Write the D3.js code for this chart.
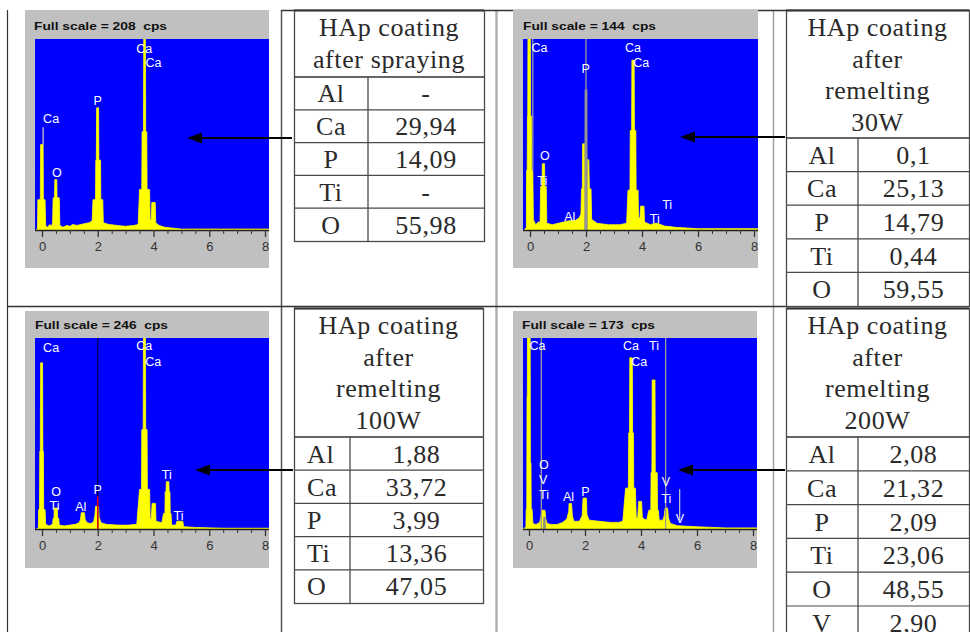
<!DOCTYPE html>
<html><head><meta charset="utf-8">
<script src="https://cdn.jsdelivr.net/npm/d3@7"></script>
<style>body{margin:0;background:#fff}svg{display:block}</style>
</head><body>
<svg id="c" width="970" height="632"></svg>
<script>
// ---------------- DATA ----------------
const fullScales = [208, 144, 246, 173];
const energyTicks = [0, 2, 4, 6, 8];
const minorTicks = [0.5,1,1.5,2.5,3,3.5,4.5,5,5.5,6.5,7,7.5];

// spectra: [energy keV, counts cps]
const spectrumSprayed = [[-0.2,0],[-0.16,2],[-0.15,33],[-0.06,33],[-0.05,93],[0.04,93],[0.05,33],[0.11,33],[0.13,5],[0.2,3],[0.28,6],[0.34,4],[0.38,8],[0.4,35],[0.45,35],[0.46,55],[0.53,55],[0.54,35],[0.62,35],[0.64,5],[0.75,3],[0.9,5],[1.0,4],[1.1,6],[1.25,5],[1.4,6],[1.55,7],[1.7,8],[1.8,10],[1.83,33],[1.92,33],[1.93,76],[1.95,76],[1.96,133],[2.03,133],[2.04,76],[2.1,76],[2.11,33],[2.18,33],[2.2,8],[2.4,6],[2.7,5],[3.0,4],[3.3,5],[3.45,6],[3.5,44],[3.58,44],[3.59,107],[3.64,107],[3.65,208],[3.71,208],[3.72,107],[3.76,107],[3.77,44],[3.86,44],[3.88,10],[3.92,12],[3.94,30],[4.06,30],[4.08,8],[4.2,5],[4.4,3],[4.7,2],[5.0,1],[6,1],[8.3,1]];
const spectrum30W = [[-0.2,0],[-0.13,2],[-0.12,45],[-0.1,45],[-0.09,86],[-0.08,86],[-0.07,170],[0.01,170],[0.02,86],[0.05,86],[0.06,45],[0.1,45],[0.12,8],[0.2,4],[0.3,6],[0.36,6],[0.38,33],[0.43,33],[0.44,50],[0.52,50],[0.53,33],[0.58,33],[0.6,5],[0.8,4],[1.0,5],[1.2,6],[1.4,7],[1.6,7],[1.75,9],[1.82,12],[1.84,31],[1.87,31],[1.88,65],[1.96,65],[1.97,30],[2.04,30],[2.05,53],[2.1,53],[2.12,31],[2.18,31],[2.2,8],[2.4,5],[2.8,4],[3.2,4],[3.45,5],[3.5,30],[3.57,30],[3.58,75],[3.63,75],[3.64,128],[3.72,128],[3.73,75],[3.78,75],[3.79,30],[3.86,30],[3.88,8],[3.93,10],[3.95,18],[4.07,18],[4.09,6],[4.3,4],[4.45,5],[4.55,5],[4.8,3],[5.2,2],[6,1],[8.3,1]];
const spectrum100W = [[-0.2,0],[-0.13,2],[-0.12,25],[-0.09,25],[-0.08,100],[-0.06,100],[-0.05,214],[0.02,214],[0.03,100],[0.05,100],[0.06,25],[0.11,25],[0.13,6],[0.25,4],[0.38,6],[0.4,14],[0.43,14],[0.44,27],[0.55,27],[0.56,14],[0.6,14],[0.62,5],[0.8,4],[1.0,5],[1.2,6],[1.33,8],[1.38,12],[1.41,21],[1.52,21],[1.55,12],[1.62,8],[1.75,7],[1.85,9],[1.9,18],[1.92,29],[2.03,29],[2.05,15],[2.12,8],[2.3,6],[2.7,5],[3.1,5],[3.4,6],[3.5,51],[3.57,51],[3.58,128],[3.63,128],[3.64,246],[3.71,246],[3.72,128],[3.77,128],[3.78,51],[3.86,51],[3.88,12],[3.92,14],[3.95,33],[4.07,33],[4.09,10],[4.3,8],[4.36,20],[4.41,20],[4.42,48],[4.45,48],[4.46,61],[4.55,61],[4.56,48],[4.59,48],[4.6,20],[4.63,20],[4.65,5],[4.8,5],[4.84,10],[5.05,10],[5.08,3],[5.5,2],[6.5,1],[8.3,1]];
const spectrum200W = [[-0.2,0],[-0.11,2],[-0.1,18],[-0.08,18],[-0.07,120],[-0.06,120],[-0.05,200],[0.04,200],[0.05,60],[0.07,60],[0.08,18],[0.11,18],[0.14,5],[0.25,4],[0.38,6],[0.42,10],[0.46,17],[0.57,17],[0.6,9],[0.65,5],[0.8,4],[1.0,4],[1.2,6],[1.35,9],[1.42,16],[1.43,23],[1.52,23],[1.55,12],[1.6,7],[1.8,7],[1.9,12],[1.93,28],[2.05,28],[2.07,13],[2.15,8],[2.5,7],[2.9,6],[3.2,6],[3.35,7],[3.45,37],[3.55,37],[3.56,87],[3.59,87],[3.6,155],[3.69,155],[3.7,87],[3.73,87],[3.74,37],[3.8,37],[3.83,10],[3.88,10],[3.92,25],[4.02,25],[4.05,10],[4.2,8],[4.28,17],[4.35,17],[4.36,51],[4.39,51],[4.4,135],[4.5,135],[4.51,51],[4.58,51],[4.59,17],[4.62,17],[4.65,8],[4.78,8],[4.83,12],[4.86,19],[4.95,19],[4.98,10],[5.05,5],[5.3,3],[6,2],[7,1],[8.3,1]];
// gray overlay peaks
const overlay30W = [[1.94,0],[1.95,106],[2.05,106],[2.06,0]];
const overlay200W = [[0.5,0],[0.51,11],[0.59,11],[0.6,0]];

// peak labels: [text, keV (left edge), cps (baseline)]
const labelsSprayed = [["Ca",0.04,116],["O",0.36,58],["P",1.85,136],["Ca",3.38,193],["Ca",3.71,178]];
const labels30W = [["Ca",0.05,134],["P",1.84,118],["Ca",3.39,134],["Ca",3.69,123],["O",0.36,53],["Ti",0.26,34],["Al",1.22,7],["Ti",4.28,5],["Ti",4.72,16]];
const labels100W = [["Ca",0.04,228],["Ca",3.38,230],["Ca",3.7,210],["O",0.33,43],["Ti",0.27,24],["Al",1.19,23],["P",1.85,45],["Ti",4.3,64],["Ti",4.72,12]];
const labels200W = [["Ca",0.02,162],["Ca",3.36,162],["Ti",4.29,162],["Ca",3.65,148],["O",0.36,54],["V",0.36,41],["Ti",0.36,27],["Al",1.21,25],["P",1.87,30],["V",4.74,39],["Ti",4.73,24],["V",5.24,5]];

// marker lines: [keV, cps from, cps to, colour]
const markersSprayed = [[0.04,93,112,"#c8c8c8"]];
const markers30W = [[0.1,45,144,"#9a9a9a"],[2.0,0,144,"#9a9a9a"]];
const markers100W = [[2.0,0,246,"#000050"],[2.0,0,42,"#ff0000"]];
const markers200W = [[0.44,0,173,"#9a9a9a"],[4.88,0,173,"#9a9a9a"],[5.38,8,36,"#bbbbbb"]];

// tables
const elements = ["Al","Ca","P","Ti","O"];
const elements200W = ["Al","Ca","P","Ti","O","V"];
const valuesSprayed = ["-","29,94","14,09","-","55,98"];
const values30W = ["0,1","25,13","14,79","0,44","59,55"];
const values100W = ["1,88","33,72","3,99","13,36","47,05"];
const values200W = ["2,08","21,32","2,09","23,06","48,55","2,90"];
const headerSprayed = ["HAp coating","after spraying"];
const header30W = ["HAp coating","after","remelting","30W"];
const header100W = ["HAp coating","after","remelting","100W"];
const header200W = ["HAp coating","after","remelting","200W"];

// ---------------- DRAW ----------------
const svg = d3.select("#c");
const sans = "Arial, 'Liberation Sans', sans-serif";
const serif = "'Liberation Serif', 'Times New Roman', serif";

// frame lines
const frame = svg.append("g").attr("fill","none");
frame.append("line").attr("x1",7.5).attr("x2",7.5).attr("y1",10).attr("y2",632).attr("stroke","#333").attr("stroke-width",1.2);
frame.append("line").attr("x1",281.5).attr("x2",281.5).attr("y1",10).attr("y2",632).attr("stroke","#555").attr("stroke-width",1.5);
frame.append("line").attr("x1",496.5).attr("x2",496.5).attr("y1",10).attr("y2",632).attr("stroke","#b0b0b0").attr("stroke-width",2.5);
frame.append("line").attr("x1",773.5).attr("x2",773.5).attr("y1",10).attr("y2",632).attr("stroke","#a0a0a0").attr("stroke-width",1.5);
frame.append("line").attr("x1",7).attr("x2",970).attr("y1",306.5).attr("y2",306.5).attr("stroke","#333").attr("stroke-width",1.5);
frame.append("line").attr("x1",281).attr("x2",970).attr("y1",10.5).attr("y2",10.5).attr("stroke","#333").attr("stroke-width",1.5);

const panelDefs = [
  {gx:25, gy:10, gw:244, gh:258, bx:35, by:39, bw:234, bh:191, x0:42, x8:265, tx:34, ty:30, fs:fullScales[0], spec:spectrumSprayed, labels:labelsSprayed, overlay:null, markers:markersSprayed},
  {gx:513, gy:10, gw:245, gh:258, bx:523, by:39, bw:235, bh:191, x0:530, x8:754, tx:523, ty:30, fs:fullScales[1], spec:spectrum30W, labels:labels30W, overlay:overlay30W, markers:markers30W},
  {gx:25, gy:311, gw:244, gh:257, bx:35, by:338, bw:234, bh:191, x0:42, x8:265, tx:35, ty:329, fs:fullScales[2], spec:spectrum100W, labels:labels100W, overlay:null, markers:markers100W},
  {gx:513, gy:311, gw:244, gh:257, bx:523, by:338, bw:234, bh:191, x0:529, x8:753, tx:522, ty:329, fs:fullScales[3], spec:spectrum200W, labels:labels200W, overlay:overlay200W, markers:markers200W}
];

panelDefs.forEach((p, i) => {
  const g = svg.append("g");
  g.append("rect").attr("x",p.gx).attr("y",p.gy).attr("width",p.gw).attr("height",p.gh).attr("fill","#c0c0c0");
  g.append("text").attr("x",p.tx).attr("y",p.ty).attr("font-family",sans).attr("font-weight","bold")
    .attr("font-size",11.5).attr("fill","#111").attr("textLength",133).attr("lengthAdjust","spacingAndGlyphs")
    .style("white-space","pre").text("Full scale = " + p.fs + "  cps");
  g.append("rect").attr("x",p.bx).attr("y",p.by).attr("width",p.bw).attr("height",p.bh).attr("fill","#0000ff");

  const x = d3.scaleLinear().domain([0,8]).range([p.x0,p.x8]);
  const y = d3.scaleLinear().domain([0,p.fs]).range([p.by+p.bh, p.by]);

  const clipId = "clip"+i;
  svg.append("clipPath").attr("id",clipId).append("rect").attr("x",p.bx).attr("y",p.by).attr("width",p.bw).attr("height",p.bh);
  const plot = g.append("g").attr("clip-path","url(#"+clipId+")");

  const area = d3.area().x(d=>x(d[0])).y0(y(0)).y1(d=>y(d[1]));
  plot.append("path").datum(p.spec).attr("d",area).attr("fill","#ffff00").attr("stroke","#ffff00").attr("stroke-width",0.8);
  if (p.overlay) plot.append("path").datum(p.overlay).attr("d",area).attr("fill","#8c8c8c");
  p.markers.forEach(m => {
    plot.append("line").attr("x1",x(m[0])).attr("x2",x(m[0])).attr("y1",y(m[1])).attr("y2",y(m[2]))
      .attr("stroke",m[3]).attr("stroke-width",1.3);
  });
  plot.selectAll("text.lbl").data(p.labels).join("text").attr("class","lbl")
    .attr("x",d=>x(d[1])).attr("y",d=>y(d[2])).attr("fill","#ffffff")
    .attr("font-family",sans).attr("font-size",12.5).text(d=>d[0]);

  // axis
  const base = p.by + p.bh;
  g.append("line").attr("x1",p.bx).attr("x2",p.bx+p.bw).attr("y1",base+0.5).attr("y2",base+0.5).attr("stroke","#222").attr("stroke-width",1.5);
  const axMinor = d3.axisBottom(x).tickValues(minorTicks).tickSize(4).tickFormat("");
  g.append("g").attr("transform","translate(0,"+base+")").call(axMinor)
    .call(a=>a.select(".domain").remove()).call(a=>a.selectAll("line").attr("stroke","#333"));
  const axMajor = d3.axisBottom(x).tickValues(energyTicks).tickSize(7).tickPadding(5);
  g.append("g").attr("transform","translate(0,"+base+")").call(axMajor)
    .call(a=>a.select(".domain").remove())
    .call(a=>a.selectAll("line").attr("stroke","#333").attr("stroke-width",1.3))
    .call(a=>a.selectAll("text").attr("font-family",sans).attr("font-size",13).attr("fill","#333"));
});

// arrows
const arrows = [[292,187,138],[785,680,137],[293,195,470],[785,678,470]];
const ag = svg.append("g");
arrows.forEach(a => {
  ag.append("line").attr("x1",a[0]).attr("x2",a[1]+12).attr("y1",a[2]).attr("y2",a[2]).attr("stroke","#000").attr("stroke-width",2);
  ag.append("path").attr("d",`M${a[1]},${a[2]} L${a[1]+15},${a[2]-5.5} L${a[1]+15},${a[2]+5.5} Z`).attr("fill","#000");
});

// tables
function drawTable(t) {
  const g = svg.append("g");
  const n = t.labels.length;
  const rowTops = t.labels.map((_,i)=>t.headerBottom + i*t.rowH);
  const bottom = t.headerBottom + n*t.rowH;
  const stroke = "#4a4a4a";
  g.append("rect").attr("x",t.x+0.5).attr("y",t.y+0.5).attr("width",t.r-t.x).attr("height",bottom-t.y)
    .attr("fill","#fff").attr("stroke",stroke).attr("stroke-width",1.3);
  g.append("line").attr("x1",t.x).attr("x2",t.r).attr("y1",t.y+0.5).attr("y2",t.y+0.5).attr("stroke","#333").attr("stroke-width",2);
  g.append("line").attr("x1",t.x).attr("x2",t.r).attr("y1",t.headerBottom).attr("y2",t.headerBottom).attr("stroke","#333").attr("stroke-width",1.6);
  rowTops.slice(1).forEach(yy => g.append("line").attr("x1",t.x).attr("x2",t.r).attr("y1",yy).attr("y2",yy).attr("stroke",stroke).attr("stroke-width",1.2));
  g.append("line").attr("x1",t.col).attr("x2",t.col).attr("y1",t.headerBottom).attr("y2",bottom).attr("stroke",stroke).attr("stroke-width",1.3);
  const txt = (s, xx, yy, anchor) => g.append("text").attr("x",xx).attr("y",yy).attr("text-anchor",anchor)
      .attr("font-family",serif).attr("font-size",26).attr("letter-spacing",0.6).attr("fill","#2a2a2a").text(s);
  t.header.forEach((s,i)=>txt(s,(t.x+t.r)/2, t.y+17+31.7*i+9,"middle"));
  t.labels.forEach((s,i)=>{
    const cy = rowTops[i] + t.rowH/2 + 9;
    if (t.leftAlign) txt(s, t.x+13, cy, "start"); else txt(s,(t.x+t.col)/2, cy, "middle");
    txt(t.values[i], (t.col+t.r)/2, cy, "middle");
  });
}
drawTable({x:294,y:10,r:484,col:368,headerBottom:77,rowH:32.8,header:headerSprayed,labels:elements,values:valuesSprayed});
drawTable({x:786,y:10,r:969,col:858,headerBottom:138,rowH:33.6,header:header30W,labels:elements,values:values30W});
drawTable({x:294,y:308,r:483,col:350,headerBottom:437,rowH:33.2,header:header100W,labels:elements,values:values100W,leftAlign:true});
drawTable({x:786,y:308,r:969,col:858,headerBottom:437,rowH:33.8,header:header200W,labels:elements200W,values:values200W});
</script>
</body></html>
